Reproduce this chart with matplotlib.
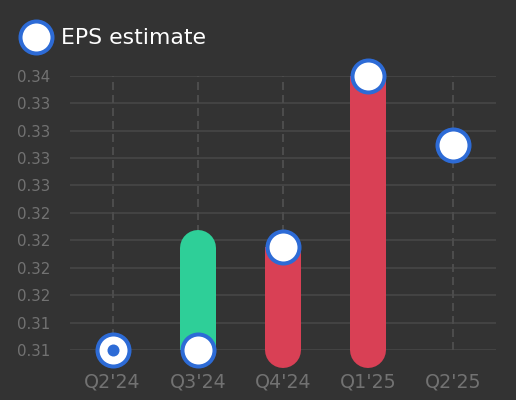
import numpy as np
import matplotlib
matplotlib.use("Agg")
import matplotlib.pyplot as plt
from matplotlib.lines import Line2D

# data
quarters = ["Q2'24", "Q3'24", "Q4'24", "Q1'25", "Q2'25"]
eps_estimate = [0.3096, 0.3096, 0.3201, 0.3376, 0.3305]
eps_actual = [0.3096, 0.3200, 0.3096, 0.3096, None]

# colours
bg = "#333333"
grid_col = "#484848"
label_col = "#727272"
blue = "#2d6bd6"
green = "#2ecf98"
red = "#d94055"

DPI = 100
px = 72 / DPI  # points per pixel

fig = plt.figure(figsize=(5.16, 4.0), dpi=DPI, facecolor=bg)
ax = fig.add_axes([70 / 516, 50 / 400, 426 / 516, 274.3 / 400])
ax.set_facecolor(bg)

x = np.arange(len(quarters))

# y ticks: 10 even steps between lowest and highest value
vals = eps_estimate + [a for a in eps_actual if a is not None]
lo, hi = min(vals), max(vals)
yticks = np.linspace(lo, hi, 11)
ax.set_ylim(lo, hi)
ax.set_xlim(-0.5, len(quarters) - 0.5)
ax.set_yticks(yticks)
ax.set_yticklabels([f"{v:.2f}" for v in yticks])
ax.set_xticks(x)
ax.set_xticklabels(quarters)

# grid
for v in yticks:
    ax.axhline(v, color=grid_col, lw=1.6 * px, zorder=0)
for xi in x:
    ax.axvline(xi, color="#4c4c4c", lw=2.0 * px, ls=(0, (4, 2.5)), zorder=0)

for s in ax.spines.values():
    s.set_visible(False)
ax.tick_params(length=0, colors=label_col)
ax.tick_params(axis="y", labelsize=15 * px, pad=14)
ax.tick_params(axis="x", labelsize=19 * px, pad=16)

# surprise bars (estimate -> actual): flat at the estimate, round at the actual
bar_w = 36 * px
for xi, est, act in zip(x, eps_estimate, eps_actual):
    if act is None or act == est:
        continue
    col = green if act > est else red
    mid = (est + act) / 2
    ax.plot([xi, xi], [est, act], color=col, lw=bar_w,
            solid_capstyle="butt", zorder=2, clip_on=False)
    ax.plot([xi, xi], [mid, act], color=col, lw=bar_w,
            solid_capstyle="round", zorder=2, clip_on=False)

# estimate markers
ms = 32 * px
ax.plot(x, eps_estimate, "o", ls="none", ms=ms, mfc="white", mec=blue,
        mew=4 * px, zorder=3, clip_on=False)

# actual equal to estimate: small dot inside
for xi, est, act in zip(x, eps_estimate, eps_actual):
    if act is not None and act == est:
        ax.plot(xi, act, "o", ms=12 * px, color=blue, mec="none",
                zorder=4, clip_on=False)

# legend
handle = Line2D([], [], marker="o", ls="none", ms=ms, mfc="white",
                mec=blue, mew=4 * px)
fig.legend([handle], ["EPS estimate"], loc="center left",
           bbox_to_anchor=(25 / 516, 1 - 38.5 / 400), frameon=False,
           fontsize=22 * px, labelcolor="white", handletextpad=0.65,
           handlelength=1.0, borderaxespad=0, borderpad=0)

fig.savefig("out.png", dpi=DPI, facecolor=bg)
